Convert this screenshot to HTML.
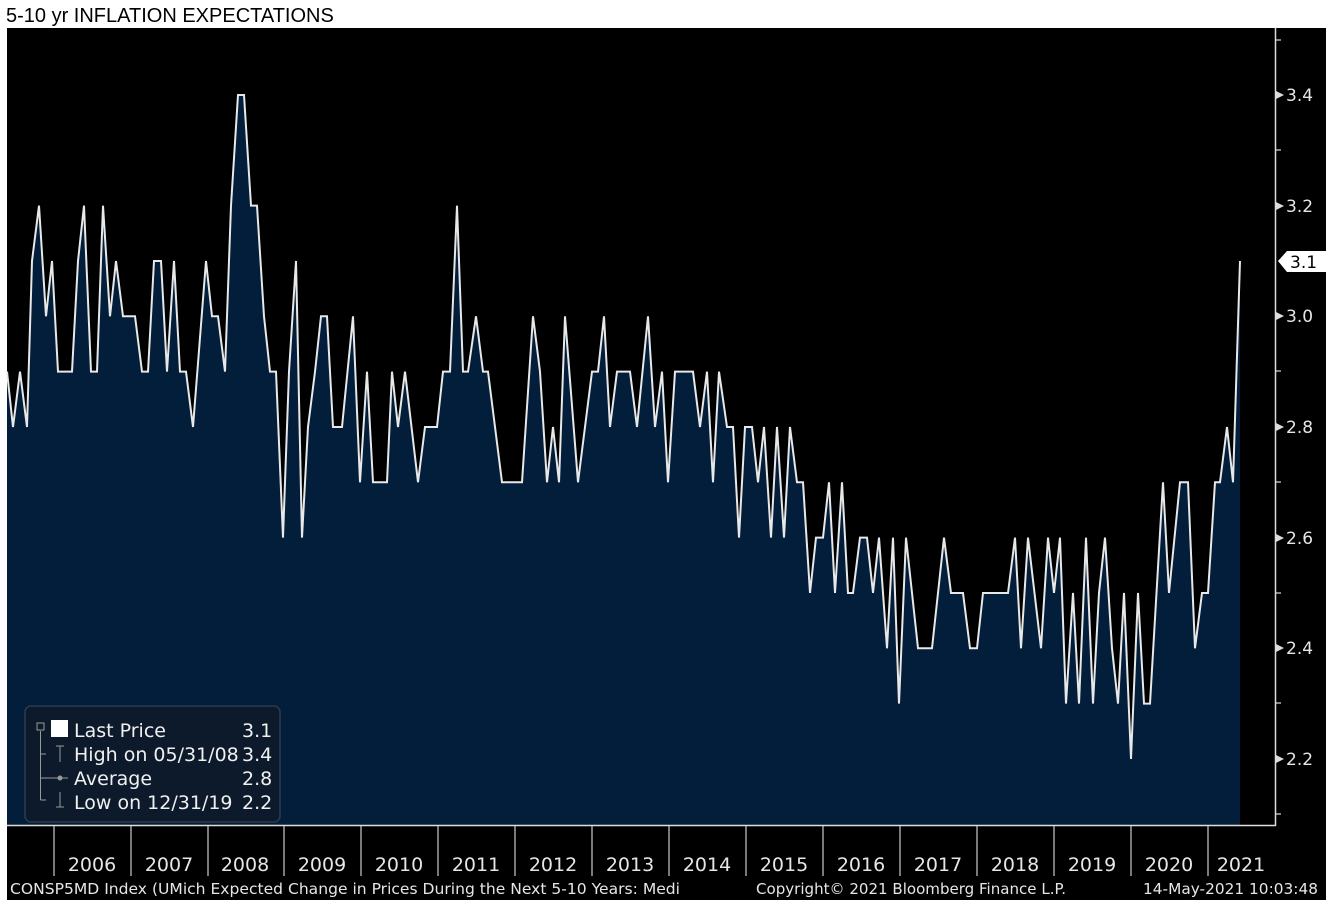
<!DOCTYPE html>
<html><head><meta charset="utf-8"><style>
body{margin:0;width:1326px;height:904px;background:#fff;overflow:hidden;font-family:"Liberation Sans","DejaVu Sans",sans-serif}
</style></head><body>
<svg width="1326" height="904" xmlns="http://www.w3.org/2000/svg" style="position:absolute;left:0;top:0">
<rect x="0" y="0" width="1326" height="904" fill="#fff"/>
<text x="6" y="22" font-size="20" fill="#000" font-family="Liberation Sans, sans-serif">5-10 yr INFLATION EXPECTATIONS</text>
<rect x="7" y="28" width="1319" height="872" fill="#000"/>
<g transform="matrix(1 0 0 -553.3 0 1976.2)">
<polygon fill="#031e3b" points="7,2.0806 7,2.9 13,2.8 20,2.9 27,2.8 32,3.1 39,3.2 46,3.0 52,3.1 58,2.9 72,2.9 78,3.1 84,3.2 91,2.9 97,2.9 103,3.2 110,3.0 116,3.1 123,3.0 135,3.0 142,2.9 148,2.9 154,3.1 161,3.1 167,2.9 174,3.1 180,2.9 186,2.9 193,2.8 206,3.1 212,3.0 218,3.0 225,2.9 231,3.2 238,3.4 244,3.4 251,3.2 257,3.2 264,3.0 270,2.9 276,2.9 283,2.6 289,2.9 296,3.1 302,2.6 308,2.8 315,2.9 321,3.0 327,3.0 333,2.8 342,2.8 353,3.0 360,2.7 367,2.9 373,2.7 387,2.7 392,2.9 398,2.8 405,2.9 418,2.7 425,2.8 437,2.8 443,2.9 450,2.9 457,3.2 463,2.9 468,2.9 476,3.0 483,2.9 488,2.9 502,2.7 522,2.7 533,3.0 540,2.9 547,2.7 553,2.8 559,2.7 565,3.0 578,2.7 592,2.9 598,2.9 604,3.0 610,2.8 617,2.9 630,2.9 637,2.8 648,3.0 655,2.8 662,2.9 668,2.7 675,2.9 693,2.9 700,2.8 707,2.9 713,2.7 719,2.9 727,2.8 733,2.8 739,2.6 745,2.8 752,2.8 758,2.7 764,2.8 771,2.6 777,2.8 784,2.6 790,2.8 797,2.7 803,2.7 810,2.5 816,2.6 823,2.6 829,2.7 835,2.5 842,2.7 848,2.5 853,2.5 860,2.6 867,2.6 873,2.5 879,2.6 887,2.4 893,2.6 899,2.3 906,2.6 918,2.4 932,2.4 944,2.6 951,2.5 963,2.5 970,2.4 977,2.4 983,2.5 1008,2.5 1015,2.6 1021,2.4 1028,2.6 1041,2.4 1048,2.6 1054,2.5 1060,2.6 1066,2.3 1073,2.5 1079,2.3 1086,2.6 1093,2.3 1099,2.5 1105,2.6 1112,2.4 1118,2.3 1124,2.5 1131,2.2 1138,2.5 1144,2.3 1150,2.3 1163,2.7 1169,2.5 1180,2.7 1188,2.7 1195,2.4 1202,2.5 1208,2.5 1215,2.7 1220,2.7 1227,2.8 1233,2.7 1240,3.1 1240,2.0806"/>
<polyline fill="none" stroke="#e8e8e8" stroke-width="2" vector-effect="non-scaling-stroke" stroke-linejoin="miter" points="7,2.9 13,2.8 20,2.9 27,2.8 32,3.1 39,3.2 46,3.0 52,3.1 58,2.9 72,2.9 78,3.1 84,3.2 91,2.9 97,2.9 103,3.2 110,3.0 116,3.1 123,3.0 135,3.0 142,2.9 148,2.9 154,3.1 161,3.1 167,2.9 174,3.1 180,2.9 186,2.9 193,2.8 206,3.1 212,3.0 218,3.0 225,2.9 231,3.2 238,3.4 244,3.4 251,3.2 257,3.2 264,3.0 270,2.9 276,2.9 283,2.6 289,2.9 296,3.1 302,2.6 308,2.8 315,2.9 321,3.0 327,3.0 333,2.8 342,2.8 353,3.0 360,2.7 367,2.9 373,2.7 387,2.7 392,2.9 398,2.8 405,2.9 418,2.7 425,2.8 437,2.8 443,2.9 450,2.9 457,3.2 463,2.9 468,2.9 476,3.0 483,2.9 488,2.9 502,2.7 522,2.7 533,3.0 540,2.9 547,2.7 553,2.8 559,2.7 565,3.0 578,2.7 592,2.9 598,2.9 604,3.0 610,2.8 617,2.9 630,2.9 637,2.8 648,3.0 655,2.8 662,2.9 668,2.7 675,2.9 693,2.9 700,2.8 707,2.9 713,2.7 719,2.9 727,2.8 733,2.8 739,2.6 745,2.8 752,2.8 758,2.7 764,2.8 771,2.6 777,2.8 784,2.6 790,2.8 797,2.7 803,2.7 810,2.5 816,2.6 823,2.6 829,2.7 835,2.5 842,2.7 848,2.5 853,2.5 860,2.6 867,2.6 873,2.5 879,2.6 887,2.4 893,2.6 899,2.3 906,2.6 918,2.4 932,2.4 944,2.6 951,2.5 963,2.5 970,2.4 977,2.4 983,2.5 1008,2.5 1015,2.6 1021,2.4 1028,2.6 1041,2.4 1048,2.6 1054,2.5 1060,2.6 1066,2.3 1073,2.5 1079,2.3 1086,2.6 1093,2.3 1099,2.5 1105,2.6 1112,2.4 1118,2.3 1124,2.5 1131,2.2 1138,2.5 1144,2.3 1150,2.3 1163,2.7 1169,2.5 1180,2.7 1188,2.7 1195,2.4 1202,2.5 1208,2.5 1215,2.7 1220,2.7 1227,2.8 1233,2.7 1240,3.1"/>
</g>
<line x1="1275.5" y1="28" x2="1275.5" y2="826" stroke="#ddd" stroke-width="1.5"/>
<line x1="7" y1="825.5" x2="1276" y2="825.5" stroke="#ddd" stroke-width="1.5"/>
<g stroke="#ddd" stroke-width="1.2">
<line x1="1276" y1="40" x2="1281" y2="40"/><line x1="1276" y1="150" x2="1281" y2="150"/><line x1="1276" y1="371" x2="1281" y2="371"/><line x1="1276" y1="482" x2="1281" y2="482"/><line x1="1276" y1="593" x2="1281" y2="593"/><line x1="1276" y1="703" x2="1281" y2="703"/><line x1="1276" y1="814" x2="1281" y2="814"/>
</g>
<g fill="#ddd">
<polygon points="1276,91 1284,95 1276,99"/><polygon points="1276,202 1284,206 1276,210"/><polygon points="1276,312 1284,316 1276,320"/><polygon points="1276,423 1284,427 1276,431"/><polygon points="1276,534 1284,538 1276,542"/><polygon points="1276,644 1284,648 1276,652"/><polygon points="1276,755 1284,759 1276,763"/>
</g>
<g font-size="17" fill="#e6e6e6" font-family="DejaVu Sans, sans-serif">
<text x="1286" y="101">3.4</text><text x="1286" y="212">3.2</text><text x="1286" y="322">3.0</text><text x="1286" y="433">2.8</text><text x="1286" y="544">2.6</text><text x="1286" y="654">2.4</text><text x="1286" y="765">2.2</text>
</g>
<polygon points="1278,261 1287,251 1326,251 1326,272 1287,272" fill="#fff"/>
<text x="1290" y="268" font-size="17" fill="#000" font-family="DejaVu Sans, sans-serif">3.1</text>
<g stroke="#ccc" stroke-width="1.2">
<line x1="54" y1="826" x2="54" y2="876"/><line x1="131" y1="826" x2="131" y2="876"/><line x1="208" y1="826" x2="208" y2="876"/><line x1="284" y1="826" x2="284" y2="876"/><line x1="361" y1="826" x2="361" y2="876"/><line x1="438" y1="826" x2="438" y2="876"/><line x1="515" y1="826" x2="515" y2="876"/><line x1="592" y1="826" x2="592" y2="876"/><line x1="669" y1="826" x2="669" y2="876"/><line x1="746" y1="826" x2="746" y2="876"/><line x1="823" y1="826" x2="823" y2="876"/><line x1="900" y1="826" x2="900" y2="876"/><line x1="977" y1="826" x2="977" y2="876"/><line x1="1054" y1="826" x2="1054" y2="876"/><line x1="1131" y1="826" x2="1131" y2="876"/><line x1="1208" y1="826" x2="1208" y2="876"/>
</g>
<g font-size="19" fill="#e6e6e6" font-family="DejaVu Sans, sans-serif" text-anchor="middle">
<text x="92" y="871">2006</text><text x="169" y="871">2007</text><text x="245" y="871">2008</text><text x="322" y="871">2009</text><text x="399" y="871">2010</text><text x="476" y="871">2011</text><text x="553" y="871">2012</text><text x="630" y="871">2013</text><text x="707" y="871">2014</text><text x="784" y="871">2015</text><text x="861" y="871">2016</text><text x="938" y="871">2017</text><text x="1015" y="871">2018</text><text x="1092" y="871">2019</text><text x="1169" y="871">2020</text><text x="1241" y="871">2021</text>
</g>
<g font-size="15" fill="#e6e6e6" font-family="DejaVu Sans, sans-serif">
<text x="10" y="894" textLength="670" lengthAdjust="spacingAndGlyphs">CONSP5MD Index (UMich Expected Change in Prices During the Next 5-10 Years: Medi</text>
<text x="756" y="894" textLength="310" lengthAdjust="spacingAndGlyphs">Copyright© 2021 Bloomberg Finance L.P.</text>
<text x="1143" y="894" textLength="175" lengthAdjust="spacingAndGlyphs">14-May-2021 10:03:48</text>
</g>
<rect x="25" y="706" width="255" height="116" rx="6" fill="#0c1a2b" stroke="#2c3b4c" stroke-width="1.5"/>
<g stroke="#999" stroke-width="1" fill="none">
<rect x="37" y="723" width="7" height="7"/>
<line x1="40.5" y1="731" x2="40.5" y2="800"/>
<line x1="40.5" y1="754" x2="46" y2="754"/><line x1="40.5" y1="778" x2="68" y2="778"/><line x1="40.5" y1="800" x2="46" y2="800"/>
<line x1="56" y1="746" x2="64" y2="746"/><line x1="60" y1="746" x2="60" y2="762"/>
<line x1="60" y1="792" x2="60" y2="807"/><line x1="56" y1="807" x2="64" y2="807"/>
</g>
<circle cx="60" cy="778" r="2.5" fill="#999"/>
<rect x="51" y="720" width="17" height="17" fill="#fff"/>
<g font-size="19" fill="#f0f0f0" font-family="DejaVu Sans, sans-serif">
<text x="74" y="737">Last Price</text><text x="242" y="737">3.1</text>
<text x="74" y="761">High on 05/31/08</text><text x="242" y="761">3.4</text>
<text x="74" y="785">Average</text><text x="242" y="785">2.8</text>
<text x="74" y="809">Low on 12/31/19</text><text x="242" y="809">2.2</text>
</g>
<rect x="0" y="900" width="1326" height="4" fill="#fff"/>
</svg>
</body></html>
